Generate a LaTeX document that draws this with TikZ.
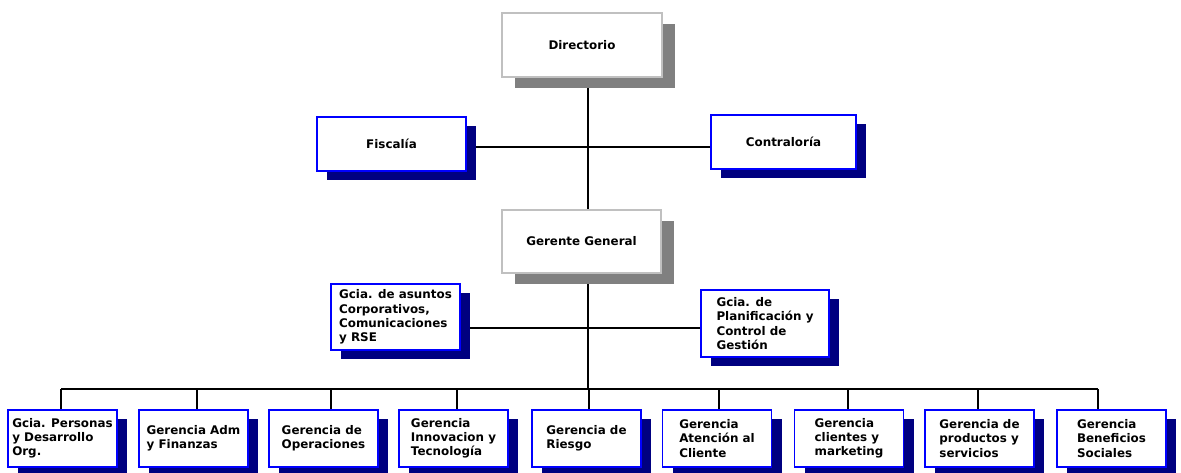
\documentclass[tikz,border=0pt]{standalone}
\usepackage{fontspec}
\setmainfont{DejaVu Sans}
\usetikzlibrary{shadows,backgrounds}
\definecolor{navy}{HTML}{000080}
\definecolor{boxblue}{HTML}{0000FF}
\definecolor{shgray}{HTML}{808080}
\definecolor{lgray}{HTML}{C0C0C0}
\tikzset{
  base/.style={draw, line width=1.6pt, fill=white, inner sep=0pt,
    font=\bfseries\fontsize{11.9}{14.2}\selectfont, align=left, text=black},
  bluebox/.style={base, draw=boxblue,
    general shadow={fill=navy, shadow xshift=10pt, shadow yshift=-9pt}},
  graybox/.style={base, draw=lgray,
    general shadow={fill=shgray, shadow xshift=13pt, shadow yshift=-11pt}},
  lowbox/.style={bluebox, minimum width=109pt, minimum height=57pt},
  conn/.style={draw=black, line width=1.3pt}
}
\begin{document}
\begin{tikzpicture}[x=1pt,y=-1pt]
\useasboundingbox (0,0) rectangle (1181,473);
% top
\node[graybox, minimum width=160pt, minimum height=64pt] (dir) at (582,45) {Directorio};
\node[bluebox, minimum width=149pt, minimum height=54pt] (fis) at (391.5,144) {Fiscalía};
\node[bluebox, minimum width=145pt, minimum height=54pt] (con) at (783.5,142) {Contraloría};
\node[graybox, minimum width=159pt, minimum height=63pt] (gg) at (581.5,241.5) {Gerente General};
\node[bluebox, minimum width=129pt, minimum height=66pt] (asu) at (395.5,317) {Gcia. de asuntos\\Corporativos,\\Comunicaciones\\y RSE};
\node[bluebox, minimum width=128pt, minimum height=67pt] (pla) at (765,323.5) {Gcia. de\\Planificación y\\Control de\\Gestión};
% bottom
\node[lowbox] (b1) at (62.5,438.5) {Gcia. Personas\\y Desarrollo\\Org.};
\node[lowbox] (b2) at (193.5,438.5) {Gerencia Adm\\y Finanzas};
\node[lowbox] (b3) at (323.5,438.5) {Gerencia de\\Operaciones};
\node[lowbox] (b4) at (453.5,438.5) {Gerencia\\Innovacion y\\Tecnología};
\node[lowbox] (b5) at (586.5,438.5) {Gerencia de\\Riesgo};
\node[lowbox] (b6) at (717,438.5) {Gerencia\\Atención al\\Cliente};
\node[lowbox] (b7) at (849,438.5) {Gerencia\\clientes y\\marketing};
\node[lowbox] (b8) at (979.5,438.5) {Gerencia de\\productos y\\servicios};
\node[lowbox] (b9) at (1111.5,438.5) {Gerencia\\Beneficios\\Sociales};
% connector coordinates
\coordinate (spT) at (588,77);
\coordinate (spB) at (588,389);
\coordinate (fl) at (588,147);
\coordinate (al) at (588,328);
\coordinate (d1) at (61,389);
\coordinate (d2) at (197,389);
\coordinate (d3) at (331,389);
\coordinate (d4) at (457,389);
\coordinate (d5) at (589,389);
\coordinate (d6) at (719,389);
\coordinate (d7) at (848,389);
\coordinate (d8) at (978,389);
\coordinate (d9) at (1098,389);
\begin{scope}[on background layer]
\draw[conn] (dir.south -| spT) -- (spB);
\draw[conn] (fis.east |- fl) -- (con.west |- fl);
\draw[conn] (asu.east |- al) -- (pla.west |- al);
\draw[conn] (d1) -- (d9);
\foreach \i in {1,...,9} {
  \draw[conn] (d\i) -- (b\i.north -| d\i);
}
\end{scope}
\end{tikzpicture}
\end{document}
